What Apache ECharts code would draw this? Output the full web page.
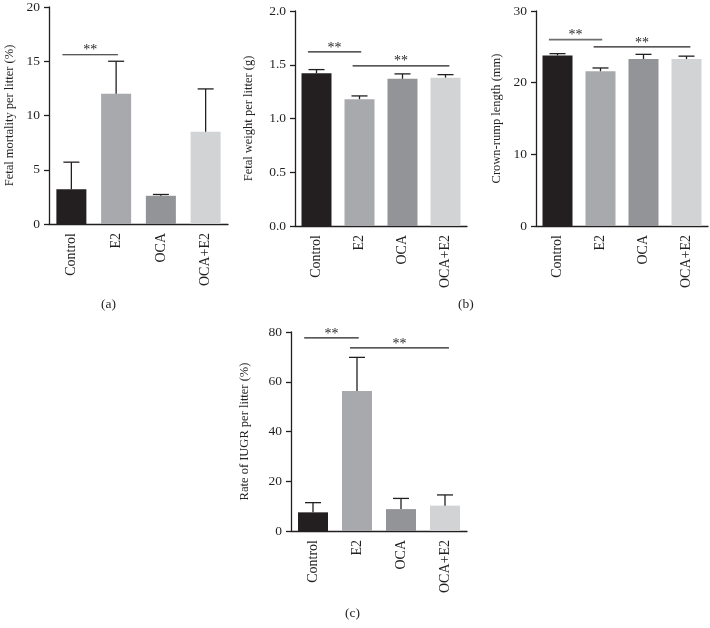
<!DOCTYPE html>
<html><head><meta charset="utf-8">
<script src="https://cdn.jsdelivr.net/npm/echarts@6/dist/echarts.min.js"></script>
<style>html,body{margin:0;padding:0;background:#fff;}#c{width:710px;height:628px;}</style>
</head><body><div id="c"></div>
<script>
const categories = ['Control', 'E2', 'OCA', 'OCA+E2'];
const barColors = ['#231f20', '#a7a9ac', '#929497', '#d1d3d4'];

const mortalityMean = [3.2, 12.0, 2.6, 8.5];
const mortalityErr = [2.5, 3.0, 0.12, 3.95];
const weightMean = [1.42, 1.18, 1.37, 1.38];
const weightErr = [0.035, 0.03, 0.045, 0.028];
const crlMean = [23.8, 21.6, 23.3, 23.3];
const crlErr = [0.25, 0.45, 0.65, 0.4];
const iugrMean = [7.5, 56.3, 8.8, 10.2];
const iugrErr = [3.9, 13.5, 4.3, 4.3];

// significance brackets: [fromCategory, toCategory, level]
const sigMortality = [[0, 1, 15.6]];
const sigWeight = [[0, 1, 1.62], [1, 3, 1.49]];
const sigCrl = [[0, 1, 26.0], [1, 3, 25.0]];
const sigIugr = [[0, 1, 77.6], [1, 3, 73.6]];

const yMortality = {max: 20, interval: 5, title: 'Fetal mortality per litter (%)', dec: 0};
const yWeight = {max: 2.0, interval: 0.5, title: 'Fetal weight per litter (g)', dec: 1};
const yCrl = {max: 30, interval: 10, title: 'Crown-rump length (mm)', dec: 0};
const yIugr = {max: 80, interval: 20, title: 'Rate of IUGR per litter (%)', dec: 0};

const panelLabels = ['(a)', '(b)', '(c)'];

const FONT = '"Liberation Serif", "DejaVu Serif", serif';
const INK = '#231f20';

const panels = [
  {mean: mortalityMean, err: mortalityErr, sig: sigMortality, y: yMortality, grid: {left: 49, top: 5, width: 179, height: 219}, gap: 33, sigColors: [INK]},
  {mean: weightMean, err: weightErr, sig: sigWeight, y: yWeight, grid: {left: 295, top: 11, width: 172, height: 215}, gap: 40, sigColors: [INK, INK]},
  {mean: crlMean, err: crlErr, sig: sigCrl, y: yCrl, grid: {left: 536, top: 11, width: 172, height: 215}, gap: 33, sigColors: ['#6d6e71', INK]},
  {mean: iugrMean, err: iugrErr, sig: sigIugr, y: yIugr, grid: {left: 291, top: 332, width: 176, height: 199}, gap: 40, sigColors: [INK, INK]}
];

const grids = [], xAxes = [], yAxes = [], series = [];
panels.forEach((p, k) => {
  grids.push(Object.assign({containLabel: false}, p.grid));
  xAxes.push({
    type: 'category', gridIndex: k, data: categories,
    axisLine: {lineStyle: {color: INK, width: 1.3}},
    axisTick: {alignWithLabel: true, length: 5, lineStyle: {color: INK, width: 1.3}},
    axisLabel: {rotate: 90, margin: 9, fontFamily: FONT, fontSize: 14, color: INK},
    splitLine: {show: false}
  });
  yAxes.push({
    type: 'value', gridIndex: k, min: 0, max: p.y.max, interval: p.y.interval,
    name: p.y.title, nameLocation: 'middle', nameGap: p.gap, nameRotate: 90,
    nameTextStyle: {fontFamily: FONT, fontSize: 12.5, color: INK},
    axisLine: {show: true, lineStyle: {color: INK, width: 1.3}},
    axisTick: {show: true, length: 5, lineStyle: {color: INK, width: 1.3}},
    axisLabel: {margin: 9, fontFamily: FONT, fontSize: 13.5, color: INK,
      formatter: v => v.toFixed(p.y.dec)},
    splitLine: {show: false}
  });
  series.push({
    type: 'bar', xAxisIndex: k, yAxisIndex: k, barWidth: 30,
    data: p.mean.map((v, i) => ({value: v, itemStyle: {color: barColors[i]}})),
    z: 2
  });
  series.push({
    type: 'custom', xAxisIndex: k, yAxisIndex: k, z: 3,
    data: p.mean.map((v, i) => [i, v, p.err[i]]),
    encode: {x: 0, y: 1},
    renderItem: (params, api) => {
      const i = api.value(0), m = api.value(1), e = api.value(2);
      const base = api.coord([i, m]);
      const top = api.coord([i, m + e]);
      const cap = 8;
      return {type: 'group', children: [
        {type: 'line', shape: {x1: base[0], y1: base[1], x2: top[0], y2: top[1]}, style: {stroke: INK, lineWidth: 1.3}},
        {type: 'line', shape: {x1: top[0] - cap, y1: top[1], x2: top[0] + cap, y2: top[1]}, style: {stroke: INK, lineWidth: 1.3}}
      ]};
    }
  });
  series.push({
    type: 'custom', xAxisIndex: k, yAxisIndex: k, z: 3, clip: false,
    data: p.sig,
    encode: {x: [0, 1], y: 2},
    renderItem: (params, api) => {
      const a = api.value(0), b = api.value(1), lvl = api.value(2);
      const band = api.size([1, 0])[0];
      const p1 = api.coord([a, lvl]);
      const p2 = api.coord([b, lvl]);
      const x1 = p1[0] - (b - a > 1 ? 0.16 : 0.2) * band;
      const x2 = p2[0] + (b - a > 1 ? 0.09 : 0.04) * band;
      const col = p.sigColors[params.dataIndex] || INK;
      return {type: 'group', children: [
        {type: 'line', shape: {x1: x1, y1: p1[1], x2: x2, y2: p1[1]}, style: {stroke: col, lineWidth: col === INK ? 1.2 : 1.8}},
        {type: 'text', style: {text: '**', x: (x1 + x2) / 2, y: p1[1] + 3, align: 'center', verticalAlign: 'bottom',
          fontFamily: FONT, fontSize: 14, fill: INK}}
      ]};
    }
  });
});

const chart = echarts.init(document.getElementById('c'), null, {renderer: 'canvas'});
chart.setOption({
  animation: false,
  backgroundColor: '#fff',
  grid: grids, xAxis: xAxes, yAxis: yAxes, series: series,
  graphic: [
    {type: 'text', left: 101, top: 297, style: {text: panelLabels[0], fontFamily: FONT, fontSize: 13.5, fill: INK}},
    {type: 'text', left: 458, top: 297, style: {text: panelLabels[1], fontFamily: FONT, fontSize: 13.5, fill: INK}},
    {type: 'text', left: 345, top: 606, style: {text: panelLabels[2], fontFamily: FONT, fontSize: 13.5, fill: INK}}
  ]
});
</script></body></html>
